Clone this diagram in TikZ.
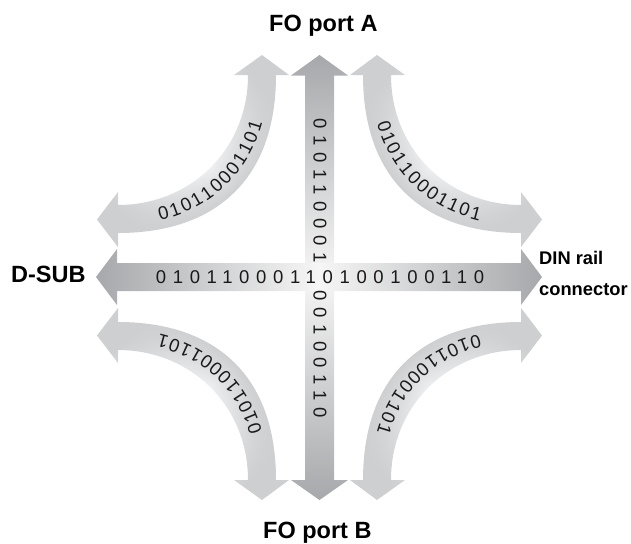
\documentclass[tikz,border=0pt]{standalone}
\usepackage{fontspec}
\setmainfont{Liberation Sans}
\usetikzlibrary{decorations.markings}
\pgfdeclarefunctionalshading{curvyband}{\pgfpoint{-50bp}{-50bp}}{\pgfpoint{50bp}{50bp}}{}{
  2 mul exch 2 mul exch
  2 copy add 0.7071 mul abs 50 div
  dup 1 gt {pop 1} if
  1 exch sub
  3 1 roll
  39.6 sub dup mul exch 39 add dup mul add sqrt
  69 sub 17 div 0.12 mul 0.93 exch sub
  0.81 sub mul 0.81 add
  dup 0.005 sub exch dup 0.005 add
}
\definecolor{armdark}{HTML}{A6A8AB}
\definecolor{armlight}{HTML}{F6F6F6}
\newcommand{\bitsfont}{\fontsize{18.5}{20}\selectfont\addfontfeatures{LetterSpace=36}}
\newcommand{\curvefont}{\fontsize{18.5}{20}\selectfont}
\newcommand{\seqdigit}{\ifcase\pgfkeysvalueof{/pgf/decoration/mark info/sequence number}\or 0\or 1\or 0\or 1\or 1\or 0\or 0\or 0\or 1\or 1\or 0\or 1\fi}
\tikzset{
  bits/.style={inner sep=0pt,text=black!90,font=\bitsfont},
  biglabel/.style={inner sep=0pt,anchor=base west,font=\fontsize{23.5}{26}\selectfont\bfseries},
  smalllabel/.style={inner sep=0pt,anchor=base west,font=\fontsize{18.3}{20}\selectfont\bfseries},
  curvetext/.style 2 args={postaction={decorate},decoration={markings,
     mark=between positions #1 and #2 step 12pt with {\node[transform shape,inner sep=0pt,text=black!90,font=\curvefont]{\seqdigit};}}},
}
\begin{document}
\begin{tikzpicture}[x=1pt,y=-1pt]
\useasboundingbox (0,0) rectangle (631,543);
% curved arrows
\shade[shading=curvyband,shading angle=0]
  (248,75) .. controls (248,150) and (190,205) .. (118,205) -- (118,192) -- (97,219.5) -- (118,247) -- (118,233)
  .. controls (215,233) and (276,180) .. (276,75) -- (289,75) -- (262,55) -- (234,75) -- cycle;
\shade[shading=curvyband,shading angle=-90]
  (391,75) .. controls (391,150) and (449,205) .. (521,205) -- (521,192) -- (542,219.5) -- (521,247) -- (521,233)
  .. controls (424,233) and (363,180) .. (363,75) -- (350,75) -- (377,55) -- (405,75) -- cycle;
\shade[shading=curvyband,shading angle=180]
  (391,480) .. controls (391,405) and (449,350) .. (521,350) -- (521,363) -- (542,335.5) -- (521,308) -- (521,322)
  .. controls (424,322) and (363,375) .. (363,480) -- (350,480) -- (377,500) -- (405,480) -- cycle;
\shade[shading=curvyband,shading angle=90]
  (248,480) .. controls (248,405) and (190,350) .. (118,350) -- (118,363) -- (97,335.5) -- (118,308) -- (118,322)
  .. controls (215,322) and (276,375) .. (276,480) -- (289,480) -- (262,500) -- (234,480) -- cycle;
% straight arrows
\shade[top color=armdark,bottom color=armdark,middle color=armlight]
  (305,480) -- (305,75.5) -- (291,75.5) -- (319.5,55) -- (348,75.5) -- (334,75.5) -- (334,480) -- (348,480) -- (319.5,500) -- (291,480) -- cycle;
\shade[left color=armdark,right color=armdark,middle color=armlight]
  (117,263) -- (521,263) -- (521,249) -- (542,277) -- (521,305) -- (521,291) -- (117,291) -- (117,305) -- (96,277) -- (117,249) -- cycle;
% bit strings
\node[bits] (hbits) at (320,277.5) {01011000110100100110};
\node[bits,rotate=-90] (vbitstop) at (320,190.5) {010110001};
\node[bits,rotate=-90] (vbitsbot) at (320,354) {00100110};
\path[curvetext={46pt}{178.5pt}] (118,219) .. controls (202,219) and (262,165) .. (262,75);
\path[curvetext={52pt}{184.5pt}] (377,75) .. controls (377,165) and (437,219) .. (521,219);
\path[curvetext={46pt}{178.5pt}] (521,336) .. controls (437,336) and (377,390) .. (377,480);
\path[curvetext={52pt}{184.5pt}] (262,480) .. controls (262,390) and (202,336) .. (118,336);
% labels
\node[biglabel] (foa) at (269,32) {FO port A};
\node[biglabel] (fob) at (263,538) {FO port B};
\node[biglabel] (dsub) at (11,282) {D-SUB};
\node[smalllabel] (din) at (539,264) {DIN rail};
\node[smalllabel] (conn) at (539,295) {connector};
\end{tikzpicture}
\end{document}
